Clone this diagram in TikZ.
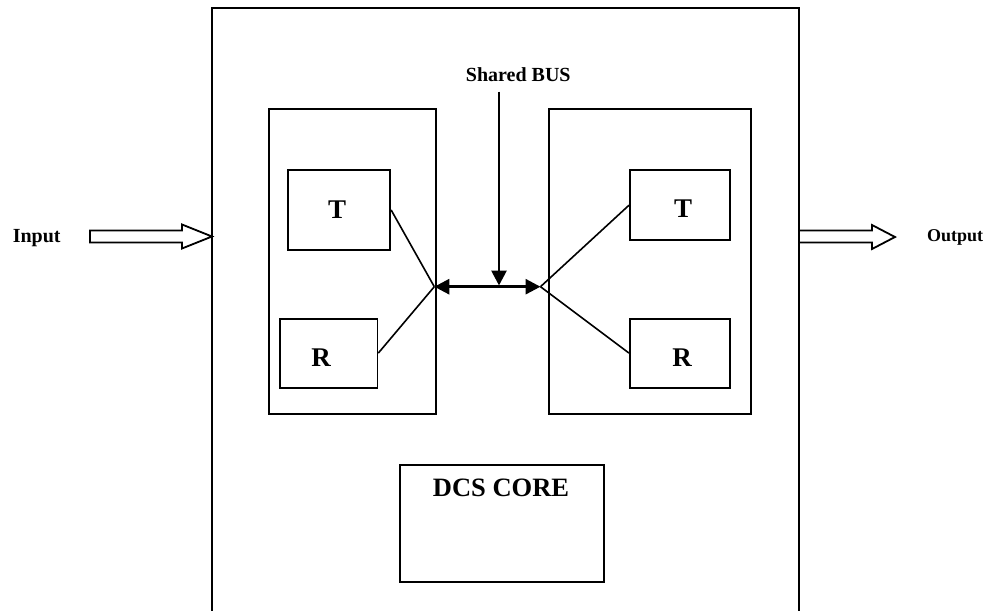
\documentclass[tikz,border=0pt]{standalone}
\usepackage{fontspec}
\setmainfont{Liberation Serif}
\usetikzlibrary{arrows.meta}
\begin{document}
\begin{tikzpicture}[x=1pt,y=-1pt,
  frame/.style={draw,line width=2pt},
  unit/.style={draw,line width=1.8pt,rectangle,inner sep=0pt,anchor=north west},
  letter/.style={font=\fontsize{27}{30}\selectfont\bfseries,inner sep=0pt},
  caption/.style={font=\fontsize{20}{24}\selectfont\bfseries,inner sep=0pt},
  wire/.style={line width=1.6pt},
  bus/.style={line width=2.8pt,{Triangle[length=15pt,width=15pt]}-{Triangle[length=15pt,width=15pt]}},
  feed/.style={line width=2.8pt,-{Triangle[length=15pt,width=15pt]}},
  blockarrow/.style={draw,line width=1.8pt,fill=white,line join=miter}]
\useasboundingbox (0,0) rectangle (987,610);

% system enclosure, open at the bottom
\draw[frame] (212,615) -- (212,8.5) -- (798.5,8.5) -- (798.5,615);

% left interface block
\node[unit,minimum width=167pt,minimum height=305pt] (lb) at (268.3,108.3) {};
\node[unit,minimum width=102pt,minimum height=80pt] (tl) at (287.3,169) {};
\node[unit,minimum width=97.5pt,minimum height=69pt] (rl) at (279,317.7) {};
\node[letter] (tltext) at (337,209.5) {T};
\node[letter] (rltext) at (321,358) {R};

% right interface block
\node[unit,minimum width=201.7pt,minimum height=305pt] (rb) at (548.3,108.3) {};
\node[unit,minimum width=100pt,minimum height=70pt] (tr) at (629,169.3) {};
\node[unit,minimum width=100pt,minimum height=69pt] (rr) at (629,317.7) {};
\node[letter] (trtext) at (683,209) {T};
\node[letter] (rrtext) at (682,358) {R};

% core block
\node[unit,minimum width=204pt,minimum height=117.4pt] (core) at (398.8,464) {};
\node[font=\fontsize{26.5}{30}\selectfont\bfseries,inner sep=0pt] (corelabel) at (501,488) {DCS CORE};

% bus junctions
\coordinate (jl) at (434.3,286.7);
\coordinate (jr) at (540.5,286.7);
\coordinate (bustop) at (499,91.7);
\coordinate (bushit) at (499,285.5);

\draw[wire] (tl.east) -- (jl);
\draw[wire] (rl.east) -- (jl);
\draw[wire] (tr.west) -- (jr);
\draw[wire] (rr.west) -- (jr);

\draw[bus] (jl) -- (jr);
\node[caption] (buslabel) at (518.3,75) {Shared BUS};
\draw[feed] (bustop) -- (bushit);

% input and output
\node[caption] (inlabel) at (36.7,238) {Input};
\node[caption,font=\fontsize{18}{22}\selectfont\bfseries] (outlabel) at (955,237) {Output};

\draw[blockarrow] (90,230.5) -- (182,230.5) -- (182,224.5) -- (212,236.5)
  -- (182,248.5) -- (182,242.5) -- (90,242.5) -- cycle;
\draw[blockarrow] (799,230.5) -- (872,230.5) -- (872,225) -- (895,237)
  -- (872,249) -- (872,242.5) -- (799,242.5) -- cycle;
\end{tikzpicture}
\end{document}
